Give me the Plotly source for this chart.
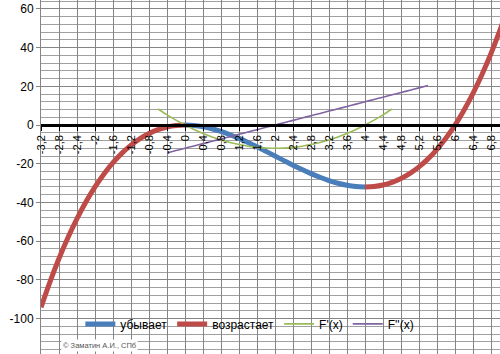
import plotly.graph_objects as go

# ---- data ----
blue_x = [0.0, 0.2, 0.4, 0.6, 0.8, 1.0, 1.2, 1.4, 1.6, 1.8, 2.0, 2.2, 2.4, 2.6, 2.8,
          3.0, 3.2, 3.4, 3.6, 3.8, 4.0]
blue_y = [0.0, -0.23, -0.9, -1.94, -3.33, -5.0, -6.91, -9.02, -11.26, -13.61, -16.0,
          -18.39, -20.74, -22.98, -25.09, -27.0, -28.67, -30.06, -31.1, -31.77, -32.0]

red_x = [-3.2, -3.0, -2.8, -2.6, -2.4, -2.2, -2.0, -1.8, -1.6, -1.4, -1.2, -1.0, -0.8,
         -0.6, -0.4, -0.2, 0.0, 2.0,
         4.0, 4.2, 4.4, 4.6, 4.8, 5.0, 5.2, 5.4, 5.6, 5.8, 6.0, 6.2, 6.4, 6.6, 6.8, 7.0, 7.2]
red_y = [-94.21, -81.0, -68.99, -58.14, -48.38, -39.69, -32.0, -25.27, -19.46, -14.5,
         -10.37, -7.0, -4.35, -2.38, -1.02, -0.25, 0.0, None,
         -32.0, -31.75, -30.98, -29.62, -27.65, -25.0, -21.63, -17.5, -12.54, -6.73, 0.0,
         7.69, 16.38, 26.14, 36.99, 49.0, 62.21]

green_x = [-0.6, -0.4, -0.2, 0.0, 0.2, 0.4, 0.6, 0.8, 1.0, 1.2, 1.4, 1.6, 1.8, 2.0, 2.2,
           2.4, 2.6, 2.8, 3.0, 3.2, 3.4, 3.6, 3.8, 4.0, 4.2, 4.4, 4.6]
green_y = [8.28, 5.28, 2.52, 0.0, -2.28, -4.32, -6.12, -7.68, -9.0, -10.08, -10.92, -11.52,
           -11.88, -12.0, -11.88, -11.52, -10.92, -10.08, -9.0, -7.68, -6.12, -4.32, -2.28,
           0.0, 2.52, 5.28, 8.28]

purple_x = [-0.4, -0.2, 0.0, 0.2, 0.4, 0.6, 0.8, 1.0, 1.2, 1.4, 1.6, 1.8, 2.0, 2.2, 2.4,
            2.6, 2.8, 3.0, 3.2, 3.4, 3.6, 3.8, 4.0, 4.2, 4.4, 4.6, 4.8, 5.0, 5.2, 5.4]
purple_y = [-14.4, -13.2, -12.0, -10.8, -9.6, -8.4, -7.2, -6.0, -4.8, -3.6, -2.4, -1.2, 0.0,
            1.2, 2.4, 3.6, 4.8, 6.0, 7.2, 8.4, 9.6, 10.8, 12.0, 13.2, 14.4, 15.6, 16.8, 18.0,
            19.2, 20.4]

x_tickvals = [-3.2, -2.8, -2.4, -2.0, -1.6, -1.2, -0.8, -0.4, 0.0, 0.4, 0.8, 1.2, 1.6, 2.0,
              2.4, 2.8, 3.2, 3.6, 4.0, 4.4, 4.8, 5.2, 5.6, 6.0, 6.4, 6.8]
x_ticktext = ["-3,2", "-2,8", "-2,4", "-2", "-1,6", "-1,2", "-0,8", "-0,4", "0", "0,4", "0,8",
              "1,2", "1,6", "2", "2,4", "2,8", "3,2", "3,6", "4", "4,4", "4,8", "5,2", "5,6",
              "6", "6,4", "6,8"]
y_tickvals = [-100, -80, -60, -40, -20, 0, 20, 40, 60]
y_ticktext = ["-100", "-80", "-60", "-40", "-20", "0", "20", "40", "60"]

Y_MIN, Y_MAX = -118.3, 64.6
X_MIN, X_MAX = -3.2, 7.0

fig = go.Figure()
fig.add_trace(go.Scatter(x=blue_x, y=blue_y, mode="lines", name="убывает",
                         line=dict(color="#4a7ebb", width=5, shape="spline")))
fig.add_trace(go.Scatter(x=red_x, y=red_y, mode="lines", name="возрастает",
                         line=dict(color="#be4b48", width=5, shape="spline")))
fig.add_trace(go.Scatter(x=green_x, y=green_y, mode="lines", name="F'(x)",
                         line=dict(color="#9bbb59", width=1.6, shape="spline")))
fig.add_trace(go.Scatter(x=purple_x, y=purple_y, mode="lines", name="F''(x)",
                         line=dict(color="#8064a2", width=1.6, shape="spline")))

zero_pos = (0 - Y_MIN) / (Y_MAX - Y_MIN)

fig.update_layout(
    width=500, height=354,
    margin=dict(l=41, r=0, t=0, b=0),
    paper_bgcolor="white", plot_bgcolor="white",
    font=dict(family="Liberation Sans, Arial, sans-serif", size=12, color="#000000"),
    showlegend=True,
    legend=dict(orientation="h", x=0.455, xanchor="center", y=0.085, yanchor="middle",
                bgcolor="rgba(0,0,0,0)", font=dict(size=12), itemwidth=30,
                tracegroupgap=0),
    xaxis=dict(range=[X_MIN, X_MAX], tickmode="array", tickvals=x_tickvals,
               ticktext=x_ticktext, tickangle=-90, tickfont=dict(size=11),
               showgrid=True, gridcolor="#858585", gridwidth=1,
               zeroline=False, showline=True, linecolor="black", linewidth=2.5,
               ticks="outside", ticklen=4, tickcolor="black", tickwidth=1,
               anchor="free", position=zero_pos),
    yaxis=dict(range=[Y_MIN, Y_MAX], tickmode="array", tickvals=y_tickvals,
               ticktext=y_ticktext, tickfont=dict(size=12),
               showgrid=True, gridcolor="#858585", gridwidth=1,
               minor=dict(dtick=4, tick0=0, showgrid=True, gridcolor="#a0a0a0", gridwidth=1),
               zeroline=False, showline=True, linecolor="#858585", linewidth=1,
               ticks="outside", ticklen=4, tickcolor="#858585"),
)

fig.add_annotation(text="© Заматин А.И., СПб", xref="paper", yref="paper",
                   x=(61 - 41) / 459, y=0.025, xanchor="left", yanchor="middle",
                   showarrow=False, font=dict(size=7.5, color="#555555"),
                   bgcolor="white")

fig.write_html("out.html")
